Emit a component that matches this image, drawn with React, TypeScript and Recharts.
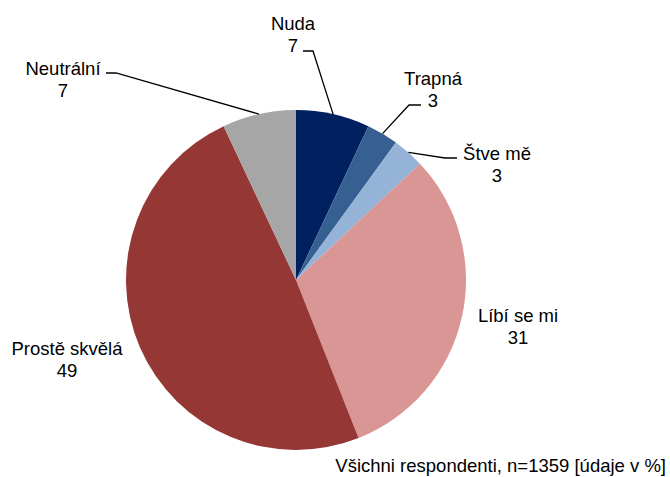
import { PieChart, Pie, Cell } from "recharts";

const categories = ["Nuda", "Trapná", "Štve mě", "Líbí se mi", "Prostě skvělá", "Neutrální"];
const shares = [7, 3, 3, 31, 49, 7];
const sliceColors = ["#002060", "#376092", "#95B3D7", "#D99694", "#953735", "#A6A6A6"];

const chartData = categories.map((name, i) => ({ name, value: shares[i] }));

// label placement relative to the pie centre, leader path from the slice edge
const labelLayout: Record<string, { tx: number; ty: number; leader?: Array<[number, number]> }> = {
  "Nuda": { tx: -3, ty: -257, leader: [[17, -229], [7, -229]] },
  "Trapná": { tx: 137, ty: -202, leader: [[113, -175], [125, -175]] },
  "Štve mě": { tx: 201, ty: -127, leader: [[149, -122], [161, -122]] },
  "Líbí se mi": { tx: 222, ty: 35 },
  "Prostě skvělá": { tx: -229, ty: 68 },
  "Neutrální": { tx: -233, ty: -212, leader: [[-180, -207], [-190, -207]] },
};

const RADIAN = Math.PI / 180;
const FONT = "'Liberation Sans', Arial, sans-serif";

const renderLabel = (props: any) => {
  const { cx, cy, midAngle, outerRadius, name, value } = props;
  const spot = labelLayout[name];
  if (!spot) return null;
  const ex = cx + outerRadius * Math.cos(-midAngle * RADIAN);
  const ey = cy + outerRadius * Math.sin(-midAngle * RADIAN);
  const pts = spot.leader
    ? [[ex, ey], ...spot.leader.map(([dx, dy]) => [cx + dx, cy + dy])]
    : null;
  return (
    <g>
      {pts && (
        <polyline
          points={pts.map((p) => p.join(",")).join(" ")}
          fill="none"
          stroke="#000"
          strokeWidth={1.3}
        />
      )}
      <text
        x={cx + spot.tx}
        y={cy + spot.ty}
        textAnchor="middle"
        dominantBaseline="central"
        fontFamily={FONT}
        fontSize={18.5}
        fill="#000"
      >
        <tspan x={cx + spot.tx}>{name}</tspan>
        <tspan x={cx + spot.tx} dy={22}>{value}</tspan>
      </text>
    </g>
  );
};

export default function App() {
  return (
    <div style={{ position: "absolute", left: 0, top: 0, width: 670, height: 477, background: "#fff" }}>
      <PieChart width={670} height={477} margin={{ top: 0, right: 0, bottom: 0, left: 0 }}>
        <Pie
          data={chartData}
          dataKey="value"
          nameKey="name"
          cx={296}
          cy={280}
          outerRadius={170}
          startAngle={90}
          endAngle={-270}
          stroke="none"
          label={renderLabel}
          labelLine={false}
          isAnimationActive={false}
        >
          {chartData.map((d, i) => (
            <Cell key={d.name} fill={sliceColors[i]} />
          ))}
        </Pie>
      </PieChart>
      <div
        style={{
          position: "absolute",
          right: 4,
          top: 455,
          fontFamily: FONT,
          fontSize: 18.5,
          color: "#000",
          whiteSpace: "nowrap",
          lineHeight: "22px",
        }}
      >
        Všichni respondenti, n=1359 [údaje v %]
      </div>
    </div>
  );
}
